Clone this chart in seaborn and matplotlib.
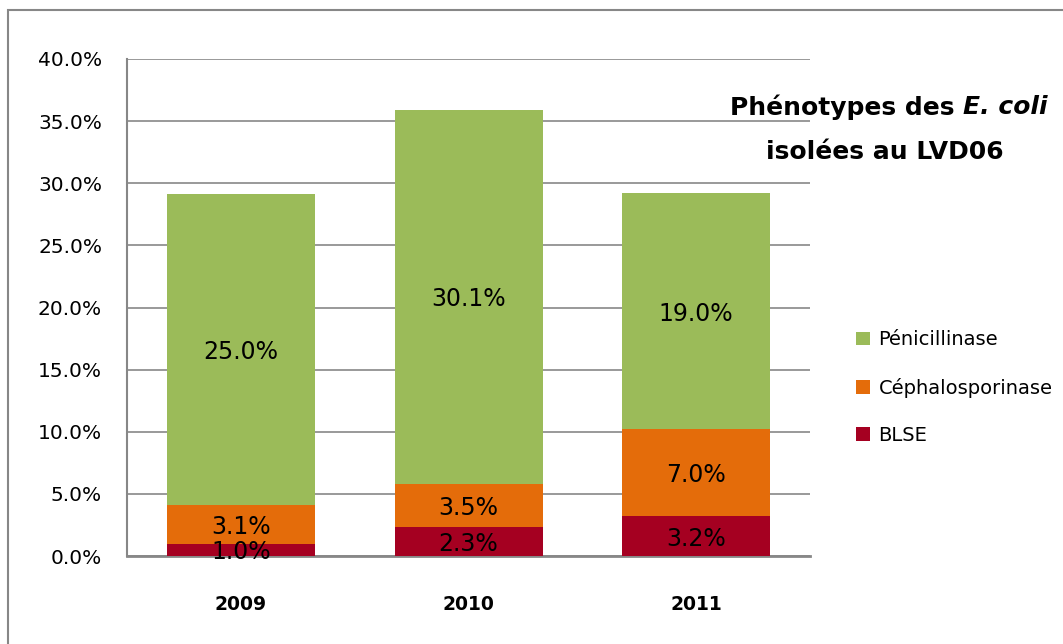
import matplotlib
matplotlib.use("Agg")
import matplotlib.pyplot as plt
from matplotlib.patches import Patch, Rectangle
from matplotlib.ticker import FuncFormatter
import seaborn as sns
import numpy as np

# data
years = ["2009", "2010", "2011"]
blse = [1.0, 2.3, 3.2]
cephalo = [3.1, 3.5, 7.0]
penicil = [25.0, 30.1, 19.0]

series_names = ["BLSE", "Céphalosporinase", "Pénicillinase"]
colors = ["#A50021", "#E46C0A", "#9BBB59"]

sns.set_style("white")
plt.rcParams["font.family"] = ["DejaVu Sans"]
plt.rcParams["text.color"] = "black"
plt.rcParams["xtick.color"] = "black"
plt.rcParams["ytick.color"] = "black"

fig = plt.figure(figsize=(10.63, 6.44), dpi=100)
ax = fig.add_axes([0.1195, 0.1366, 0.6425, 0.7718])

bottom = np.zeros(len(years))
for vals, name, col in zip([blse, cephalo, penicil], series_names, colors):
    sns.barplot(x=years, y=vals, bottom=bottom, color=col, width=0.65,
                saturation=1, errorbar=None, ax=ax, zorder=3, linewidth=0)
    for i, v in enumerate(vals):
        ax.text(i, bottom[i] + v / 2 - 0.2, f"{v:.1f}%", ha="center",
                va="center", fontsize=17, color="black", zorder=4)
    bottom = bottom + np.array(vals)

ax.set_ylim(0, 40)
ax.set_xlim(-0.5, 2.5)
ax.set_yticks(np.arange(0, 40.1, 5))
ax.yaxis.set_major_formatter(FuncFormatter(lambda v, p: f"{v:.1f}%"))
ax.grid(axis="y", color="#878787", linewidth=1.2, zorder=0)
ax.set_axisbelow(True)
for s in ["top", "right"]:
    ax.spines[s].set_visible(False)
ax.spines["left"].set_color("#878787")
ax.spines["left"].set_linewidth(1.5)
ax.spines["bottom"].set_color("#878787")
ax.spines["bottom"].set_linewidth(2)
ax.tick_params(axis="y", labelsize=14.5, pad=18, length=0)
ax.tick_params(axis="x", labelsize=13.5, pad=28, length=0)
for lab in ax.get_xticklabels():
    lab.set_fontweight("bold")

# legend
handles = [Patch(facecolor=c, edgecolor="none") for c in colors[::-1]]
fig.legend(handles, series_names[::-1], loc="center left",
           bbox_to_anchor=(0.789, 0.398), frameon=False, fontsize=14,
           handlelength=0.7, handleheight=0.7, handletextpad=0.45,
           labelspacing=1.45)

# title with italic species name
fig.text(0.906, 0.834, "Phénotypes des ", ha="right", va="center",
         fontsize=18, fontweight="bold")
fig.text(0.906, 0.834, "E. coli", ha="left", va="center",
         fontsize=18, fontweight="bold", style="italic")
fig.text(0.832, 0.764, "isolées au LVD06", ha="center", va="center",
         fontsize=18, fontweight="bold")

# outer frame of the chart
fig.patches.append(Rectangle((0.0075, -0.2), 1.2, 1.2 - 10 / 644,
                             transform=fig.transFigure, fill=False,
                             edgecolor="#878787", linewidth=1.5))

fig.savefig("out.png", dpi=100)
